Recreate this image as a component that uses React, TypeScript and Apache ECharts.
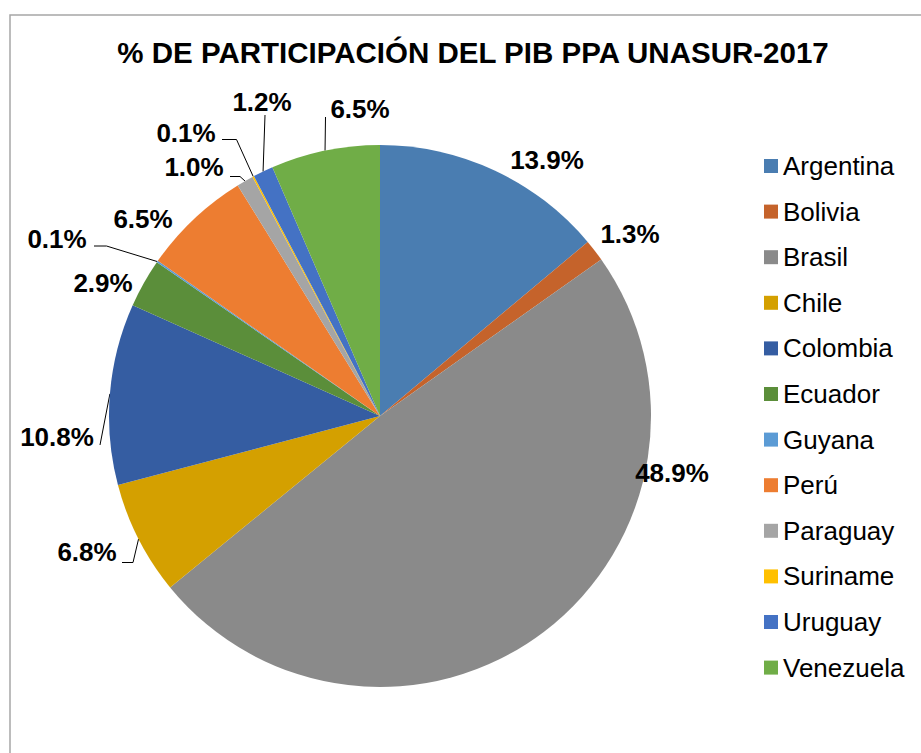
import React, { useEffect, useRef } from "react";
import * as echarts from "echarts";

const titleText = "% DE PARTICIPACIÓN DEL PIB PPA UNASUR-2017";
const countries = [
  "Argentina", "Bolivia", "Brasil", "Chile", "Colombia", "Ecuador",
  "Guyana", "Perú", "Paraguay", "Suriname", "Uruguay", "Venezuela",
];
const shares = [13.9, 1.3, 48.9, 6.8, 10.8, 2.9, 0.1, 6.5, 1.0, 0.1, 1.2, 6.5];
const colors = [
  "#4A7DB1", "#C5632B", "#8A8A8A", "#D4A000", "#355DA2", "#5B8E3A",
  "#5B9BD5", "#ED7D31", "#A5A5A5", "#FFC000", "#4472C4", "#70AD47",
];

// label centres (px) and leader bend/end points, Excel "best fit" style
const labelPos: number[][] = [
  [547, 160], [630, 234], [672, 473], [87, 552], [57, 437], [103, 283],
  [57, 239], [143, 219], [194, 167], [186, 133], [262, 102], [360, 109],
];
const leaders: (number[][] | null)[] = [
  null, null, null,
  [[133, 562.5], [122, 562.5]],
  [[100, 445], [100, 445]],
  null,
  [[106.5, 246], [94, 246]],
  null,
  [[240, 176.5], [230, 176.5]],
  [[236.5, 139.5], [222, 139.5]],
  [[265, 115], [265, 115]],
  [[325.5, 117], [325.5, 117]],
];

const CX = 380, CY = 416, R = 271;

export default function App() {
  const ref = useRef<HTMLDivElement>(null);
  useEffect(() => {
    if (!ref.current) return;
    const chart = echarts.init(ref.current, null, { renderer: "svg" });
    const total = shares.reduce((a, b) => a + b, 0);
    const edgePoint = (i: number) => {
      let cum = 0;
      for (let k = 0; k < i; k++) cum += shares[k];
      const a = ((cum + shares[i] / 2) / total) * Math.PI * 2;
      return [CX + R * Math.sin(a), CY - R * Math.cos(a)];
    };
    chart.setOption({
      animation: false,
      title: {
        text: titleText,
        left: 473,
        top: 52,
        textAlign: "center",
        textVerticalAlign: "middle",
        padding: 0,
        textStyle: {
          fontFamily: "Liberation Sans, Arial, sans-serif",
          fontSize: 29.5,
          fontWeight: "bold",
          color: "#000",
        },
      },
      graphic: [
        {
          type: "rect",
          silent: true,
          shape: { x: 10, y: 15, width: 1000, height: 1000 },
          style: { fill: "none", stroke: "#a6a6a6", lineWidth: 1.5 },
        },
      ],
      legend: {
        orient: "vertical",
        left: 764,
        top: 153,
        padding: 0,
        itemWidth: 14,
        itemHeight: 14,
        itemGap: 19.6,
        icon: "rect",
        data: countries,
        textStyle: {
          fontFamily: "Liberation Sans, Arial, sans-serif",
          fontSize: 26,
          lineHeight: 26,
          color: "#000",
        },
      },
      series: [
        {
          type: "pie",
          center: [CX, CY],
          radius: R,
          startAngle: 90,
          clockwise: true,
          avoidLabelOverlap: false,
          color: colors,
          itemStyle: { borderWidth: 0 },
          label: {
            show: true,
            position: "outside",
            formatter: (p: any) => p.value.toFixed(1) + "%",
            fontFamily: "Liberation Sans, Arial, sans-serif",
            fontSize: 26,
            fontWeight: "bold",
            color: "#000",
          },
          labelLine: {
            show: true,
            smooth: false,
            lineStyle: { color: "#000", width: 1 },
          },
          labelLayout: (params: any) => {
            const i = params.dataIndex;
            const res: any = {
              x: labelPos[i][0],
              y: labelPos[i][1],
              align: "center",
              verticalAlign: "middle",
            };
            const lead = leaders[i];
            if (lead) {
              res.labelLinePoints = [edgePoint(i), lead[0], lead[1]];
            }
            return res;
          },
          data: countries.map((name, i) => ({
            name,
            value: shares[i],
            labelLine: { show: leaders[i] !== null },
          })),
        },
      ],
    });
    return () => chart.dispose();
  }, []);
  return (
    <div
      ref={ref}
      style={{ position: "fixed", left: 0, top: 0, width: 921, height: 753, background: "#fff" }}
    />
  );
}
